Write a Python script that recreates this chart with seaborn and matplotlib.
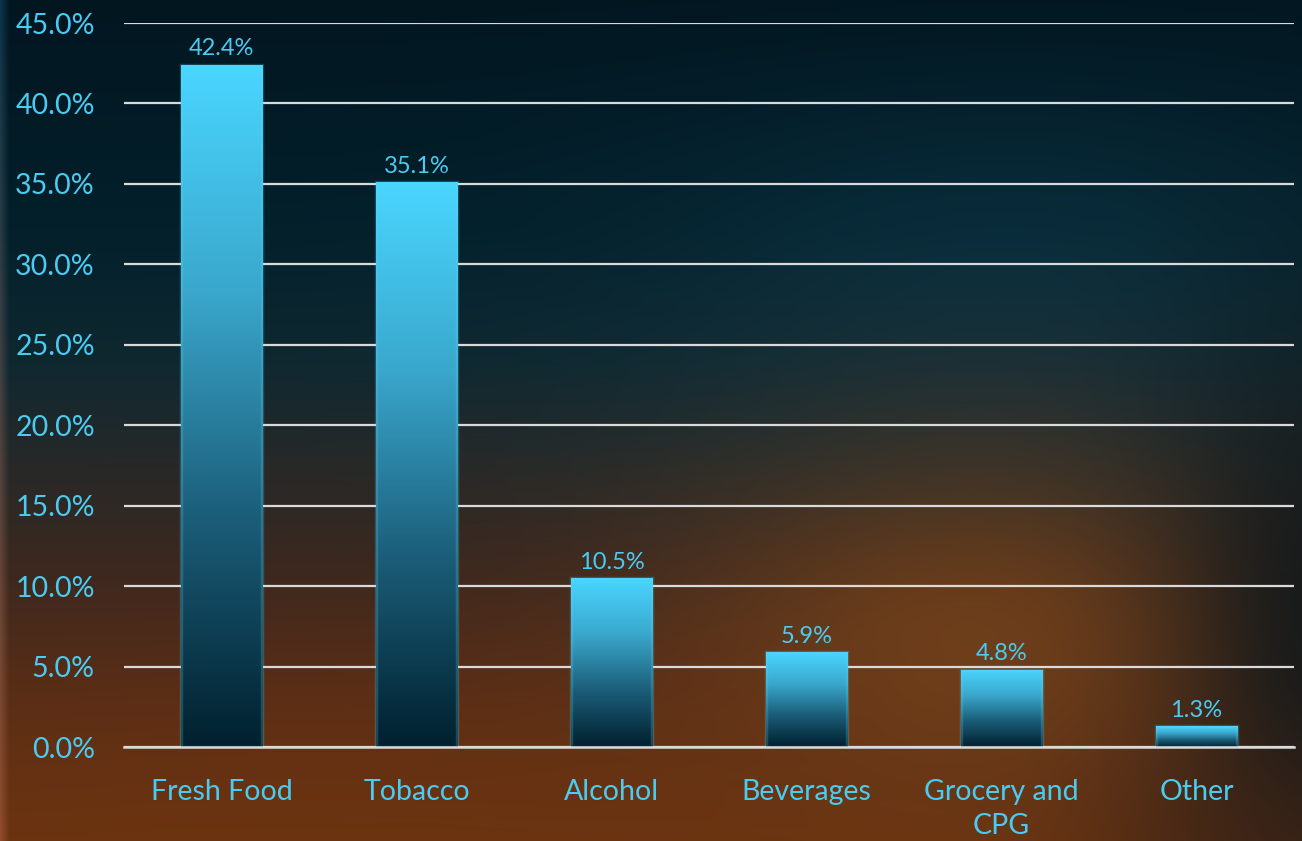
import numpy as np
import pandas as pd
import matplotlib
matplotlib.use("Agg")
import matplotlib.pyplot as plt
import seaborn as sns
from matplotlib.colors import to_rgb, LinearSegmentedColormap

# ---------------- data ----------------
categories = ["Fresh Food", "Tobacco", "Alcohol", "Beverages", "Grocery and\nCPG", "Other"]
shares = [42.4, 35.1, 10.5, 5.9, 4.8, 1.3]
y_ticks = [0, 5, 10, 15, 20, 25, 30, 35, 40, 45]
y_tick_labels = ["0.0%", "5.0%", "10.0%", "15.0%", "20.0%", "25.0%", "30.0%", "35.0%", "40.0%", "45.0%"]

df = pd.DataFrame({"category": categories, "share": shares})

# ---------------- style ----------------
sns.set_theme(style="white")
plt.rcParams["font.family"] = ["Lato", "DejaVu Sans"]
TEXT = "#4ACCF2"
GRID = "#DADADA"

W, H = 1302, 841
fig = plt.figure(figsize=(W / 100, H / 100), dpi=100)

# ---------------- background ----------------
yy, xx = np.mgrid[0:H, 0:W].astype(float)
stops_y = [0, 230, 360, 460, 560, 680, 841]
stops_c = ["#021620", "#03202B", "#0F2830", "#262928", "#3A2820", "#542C18", "#6A3311"]
img = np.zeros((H, W, 3))
for ch in range(3):
    vals = [to_rgb(c)[ch] for c in stops_c]
    img[..., ch] = np.interp(yy, stops_y, vals)

def blob(img, cx, cy, sx, sy, color, a):
    w = a * np.exp(-(((xx - cx) / sx) ** 2 + ((yy - cy) / sy) ** 2) / 2)
    c = np.array(to_rgb(color))
    return img * (1 - w[..., None]) + c * w[..., None]

img = blob(img, 1010, 290, 260, 130, "#0B3242", 0.75)
img = blob(img, 1000, 440, 200, 90, "#2E302D", 0.5)
img = blob(img, 980, 640, 210, 120, "#75421A", 0.85)
img = blob(img, 1330, 640, 110, 230, "#10181B", 0.9)
img = blob(img, 1250, 860, 120, 80, "#3A2216", 0.5)
img = blob(img, 300, 820, 350, 90, "#6E3410", 0.5)
# left slide edge strip
strip_top = np.array(to_rgb("#0D3D55"))
strip_bot = np.array(to_rgb("#9A5233"))
t = (yy / H)[..., None]
strip_col = strip_top * (1 - t) + strip_bot * t
wx = np.clip(1 - xx / 9.0, 0, 1)[..., None] * 0.8
img = img * (1 - wx) + strip_col * wx
img = np.clip(img, 0, 1)

bg = fig.add_axes([0, 0, 1, 1], zorder=-10)
bg.imshow(img, aspect="auto", extent=[0, 1, 0, 1], interpolation="bilinear")
bg.set_axis_off()

# ---------------- main axes ----------------
ax = fig.add_axes([124 / W, 1 - 747 / H, (1294 - 124) / W, (747 - 23) / H])
ax.set_facecolor("none")

sns.barplot(data=df, x="category", y="share", ax=ax, width=0.42,
            color="#2A8DB0", saturation=1, zorder=3)

ax.set_ylim(0, 45)
ax.set_xlim(-0.5, len(categories) - 0.5)
ax.set_yticks(y_ticks)
ax.set_yticklabels(y_tick_labels)
ax.set_xlabel("")
ax.set_ylabel("")
ax.yaxis.grid(True, color=GRID, linewidth=1.6, zorder=0)
ax.set_axisbelow(True)
for s in ["left", "right", "top"]:
    ax.spines[s].set_visible(False)
ax.spines["bottom"].set_color(GRID)
ax.spines["bottom"].set_linewidth(1.8)
ax.spines["bottom"].set_zorder(4)

ax.tick_params(axis="y", length=0, pad=21, labelsize=20.5, labelcolor=TEXT)
ax.tick_params(axis="x", which="major", length=0, pad=23, labelsize=20.5, labelcolor=TEXT)
ax.set_xticks(np.arange(-0.5, len(categories), 1.0), minor=True)
ax.tick_params(axis="x", which="minor", length=8, width=1.8, color=GRID, direction="out")
for lab in ax.get_xticklabels():
    lab.set_linespacing(1.4)

# gradient fill on bars
cmap = LinearSegmentedColormap.from_list("bar", ["#01202E", "#1B5D78", "#3AA7CC", "#4AD6FF"])
grad = np.linspace(0, 1, 256).reshape(-1, 1)
for p in ax.patches:
    x0, y0 = p.get_x(), p.get_y()
    w, h = p.get_width(), p.get_height()
    p.set_facecolor("none")
    p.set_edgecolor((0.35, 0.86, 1.0, 0.22))
    p.set_linewidth(2.5)
    im = ax.imshow(grad, cmap=cmap, origin="lower", aspect="auto",
                   extent=[x0, x0 + w, y0, y0 + h], zorder=2, interpolation="bilinear")
    rect = plt.Rectangle((x0, y0), w, h, transform=ax.transData, facecolor="none", edgecolor="none")
    ax.add_patch(rect)
    im.set_clip_path(rect)

ax.set_xlim(-0.5, len(categories) - 0.5)
ax.set_ylim(0, 45)

for i, v in enumerate(shares):
    ax.annotate(f"{v:.1f}%", (i, v), xytext=(0, 4), textcoords="offset points",
                ha="center", va="bottom", fontsize=17, color=TEXT, zorder=5)

fig.savefig("out.png", dpi=100)
